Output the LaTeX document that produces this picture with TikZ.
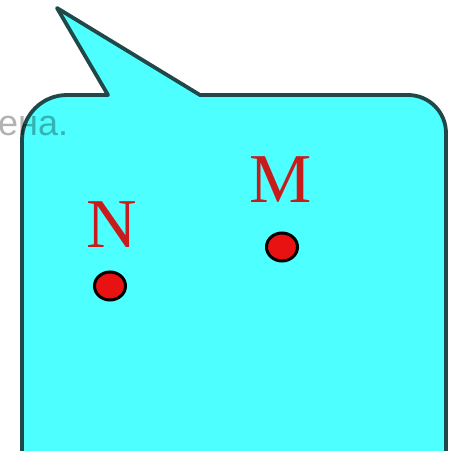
\documentclass[tikz,border=0pt]{standalone}
\usepackage{fontspec}
\setmainfont{Liberation Serif}
\newfontfamily\capsans{Liberation Sans}
\usetikzlibrary{shapes.geometric}
\definecolor{callfill}{RGB}{78,255,255}
\definecolor{calldraw}{RGB}{32,72,72}
\definecolor{letred}{RGB}{200,28,28}
\definecolor{dotred}{RGB}{232,18,18}
\tikzset{
  callout/.style={fill=callfill, draw=calldraw, line width=3.8pt, line join=round},
  ptlabel/.style={text=letred, font=\fontsize{70}{70}\selectfont, inner sep=0pt, anchor=base},
  ptdot/.style={ellipse, fill=dotred, draw=black, line width=3pt, minimum width=31pt, minimum height=28pt, inner sep=0pt},
  bgtext/.style={text=black, text opacity=0.3, font=\capsans\fontsize{36}{36}\selectfont, inner sep=0pt, anchor=base west}
}
\begin{document}
\begin{tikzpicture}[x=1pt,y=1pt]
\useasboundingbox (0,0) rectangle (450,451);
\fill[white] (0,0) rectangle (450,451);
% callout shape
\draw[callout] (22,-20) -- (22,311) arc[start angle=180, end angle=90, radius=45]
  -- (108,356) -- (57,443) -- (200,356) -- (408,356)
  arc[start angle=90, end angle=0, radius=38] -- (446,-20);
% faint text behind
\node[bgtext] (txt) at (-2,315) {ена.};
% labels and points
\node[ptlabel] (Nlab) at (112,204) {N};
\node[ptlabel] (Mlab) at (281,248) {M};
\node[ptdot] (N) at (110,165) {};
\node[ptdot] (M) at (282,204) {};
\end{tikzpicture}
\end{document}
